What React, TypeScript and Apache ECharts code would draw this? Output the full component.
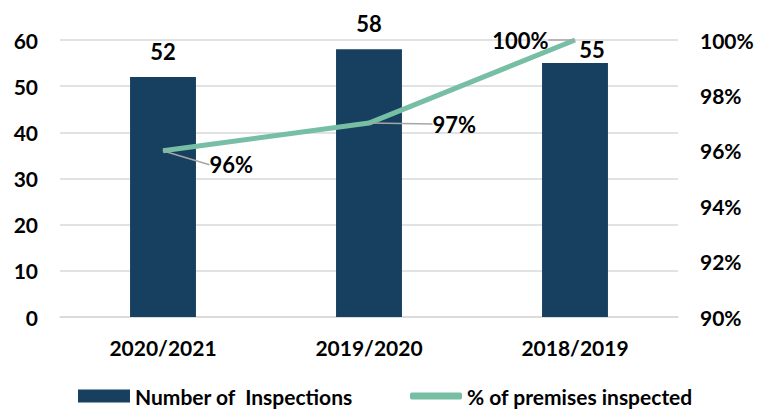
import React, { useEffect, useRef } from "react";
import * as echarts from "echarts";

const categories = ["2020/2021", "2019/2020", "2018/2019"];
const inspections = [52, 58, 55];
const premisesPct = [96, 97, 100];
const leftTicks = { min: 0, max: 60, interval: 10 };
const rightTicks = { min: 90, max: 100, interval: 2 };

const FONT = "Lato";
const BAR_COLOR = "#173F5F";
const LINE_COLOR = "#77BFA4";

export default function App() {
  const ref = useRef<HTMLDivElement>(null);
  useEffect(() => {
    if (!ref.current) return;
    const chart = echarts.init(ref.current, null, { renderer: "svg" });
    const barLabelCfg = [
      { distance: 14, offset: [0, 0] },
      { distance: 15, offset: [0, 0] },
      { distance: 3, offset: [17, 0] },
    ];
    const lineLabelCfg = [
      { position: "right", dx: 41, dy: 14 },
      { position: "right", dx: 58, dy: 1 },
      { position: "left", dx: -21, dy: 0 },
    ];
    const legendText = { fontFamily: FONT, fontWeight: "bold", fontSize: 21, color: "#000", lineHeight: 22 };
    chart.setOption({
      animation: false,
      textStyle: { fontFamily: FONT },
      grid: { left: 60, right: 93, top: 40, bottom: 93 },
      legend: [
        {
          left: 78,
          top: 385,
          padding: 0,
          itemWidth: 52,
          itemHeight: 13,
          itemGap: 6,
          textStyle: legendText,
          data: [{ name: "Number of  Inspections", icon: "rect" }],
        },
        {
          left: 410,
          top: 385,
          padding: 0,
          itemWidth: 52,
          itemHeight: 7,
          itemGap: 6,
          textStyle: legendText,
          data: [{ name: "% of premises inspected", icon: "roundRect" }],
        },
      ],
      xAxis: {
        type: "category",
        data: categories,
        axisTick: { show: false },
        axisLine: { lineStyle: { color: "#D9D9D9", width: 1.5 } },
        axisLabel: { fontFamily: FONT, fontWeight: "bold", fontSize: 21, color: "#000", margin: 20 },
      },
      yAxis: [
        {
          type: "value",
          min: leftTicks.min,
          max: leftTicks.max,
          interval: leftTicks.interval,
          splitLine: { lineStyle: { color: "#D9D9D9", width: 1.5 } },
          axisLabel: { fontFamily: FONT, fontWeight: "bold", fontSize: 21, color: "#000", margin: 22 },
        },
        {
          type: "value",
          min: rightTicks.min,
          max: rightTicks.max,
          interval: rightTicks.interval,
          splitLine: { show: false },
          axisLabel: {
            fontFamily: FONT,
            fontWeight: "bold",
            fontSize: 21,
            color: "#000",
            margin: 22,
            formatter: "{value}%",
          },
        },
      ],
      series: [
        {
          name: "Number of  Inspections",
          type: "bar",
          barWidth: "32%",
          itemStyle: { color: BAR_COLOR },
          data: inspections.map((v, i) => ({
            value: v,
            label: {
              show: true,
              position: "top",
              distance: barLabelCfg[i].distance,
              offset: barLabelCfg[i].offset,
            },
          })),
          label: { fontFamily: FONT, fontWeight: "bold", fontSize: 22, color: "#000" },
        },
        {
          name: "% of premises inspected",
          type: "line",
          yAxisIndex: 1,
          symbol: "circle",
          symbolSize: 1,
          itemStyle: { color: LINE_COLOR },
          lineStyle: { color: LINE_COLOR, width: 5 },
          data: premisesPct.map((v, i) => ({
            value: v,
            label: { position: lineLabelCfg[i].position },
          })),
          label: {
            show: true,
            distance: 5,
            formatter: "{c}%",
            fontFamily: FONT,
            fontWeight: "bold",
            fontSize: 22,
            color: "#000",
          },
          labelLine: { show: true, lineStyle: { color: "#A6A6A6", width: 1.5 } },
          labelLayout: (params: any) => {
            const c = lineLabelCfg[params.dataIndex];
            return { dx: c.dx, dy: c.dy };
          },
        },
      ],
    });
    return () => chart.dispose();
  }, []);
  return (
    <div
      ref={ref}
      style={{ position: "absolute", left: 0, top: 0, width: 771, height: 410 }}
    />
  );
}
